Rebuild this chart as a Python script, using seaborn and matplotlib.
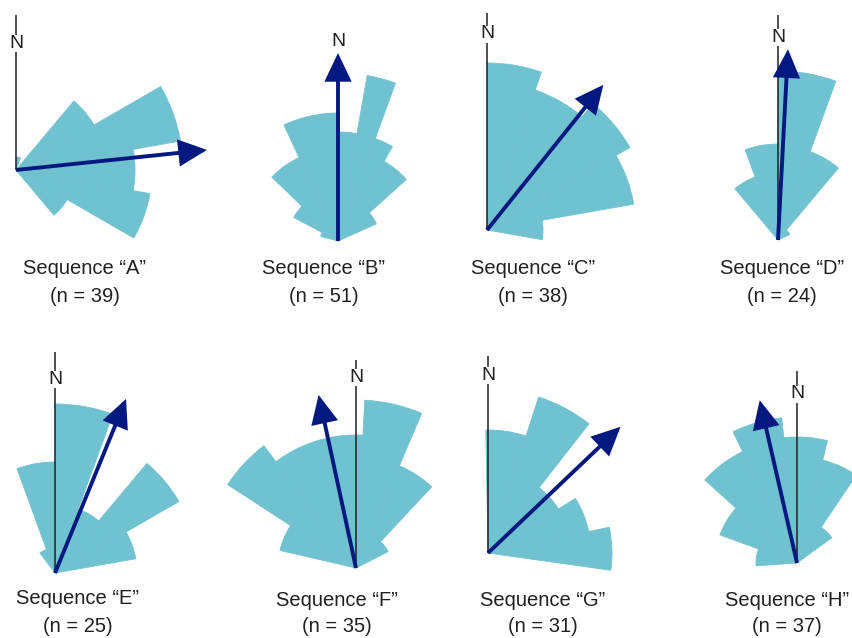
import numpy as np
import matplotlib
matplotlib.use("Agg")
import matplotlib.pyplot as plt
import seaborn as sns

# rose diagrams: sector edges (deg, clockwise from N) and sector radii
A_edges = [0, 20, 40, 60, 80, 100, 120, 140]
A_radii = [13, 0, 90, 167, 119, 136, 59]
B_edges = [-75, -62, -46, -25, 0, 10, 20, 30, 48, 66]
B_radii = [18, 50, 92, 128, 109, 168, 109, 92, 42]
C_edges = [0, 19, 40, 60, 80, 100]
C_radii = [167, 148, 165, 149, 56]
D_edges = [-40, -20, 0, 20, 40, 65]
D_radii = [67, 96, 169, 94, 13]
E_edges = [-37, -20, 0, 20, 40, 60, 80]
E_radii = [25, 111, 169, 68, 143, 82]
F_edges = [-77, -57, -37, -17, 3, 23, 43, 63]
F_radii = [78, 153, 133, 133, 168, 111, 36]
G_edges = [-1, 18, 38, 58, 78, 98]
G_radii = [123, 164, 83, 103, 124]
H_edges = [-94, -70, -48, -26, -6, 14, 34, 54]
H_radii = [41, 82, 124, 146, 126, 106, 43]

# mean vector per sequence (azimuth deg, length)
names = ["A", "B", "C", "D", "E", "F", "G", "H"]
counts = [39, 51, 38, 24, 25, 35, 31, 37]
mean_dir = [84, 0, 38.7, 3, 22.2, -12.2, 46.4, -12.9]
mean_len = [192, 188, 186, 191, 188, 177, 183, 167]

edges_all = [A_edges, B_edges, C_edges, D_edges, E_edges, F_edges, G_edges, H_edges]
radii_all = [A_radii, B_radii, C_radii, D_radii, E_radii, F_radii, G_radii, H_radii]

# layout (pixels)
W, H = 853, 638
R = 240
origins = [(16, 170), (338, 241), (487, 230), (778, 240),
           (55, 573), (356, 568), (488, 553), (797, 563)]
north_top = [155, 180, 217, 225, 221, 208, 197, 192]
north_lab = [127, 200, 196, 203, 193, 191, 178, 169]
label_x = [85, 324, 533, 782, 78, 337, 543, 787]
label_y = [269, 269, 269, 269, 599, 600, 600, 600]

CYAN = "#70c2d0"
NAVY = "#03197f"
DARK = "#231f20"

sns.set_style("white")
plt.rcParams["font.family"] = ["Liberation Sans", "DejaVu Sans"]

fig = plt.figure(figsize=(W / 100, H / 100), dpi=100)

for i in range(8):
    ox, oy = origins[i]
    ax = fig.add_axes([(ox - R) / W, 1 - (oy + R) / H, 2 * R / W, 2 * R / H],
                      projection="polar")
    ax.set_theta_zero_location("N")
    ax.set_theta_direction(-1)
    ax.set_ylim(0, R)
    ax.axis("off")
    ax.patch.set_visible(False)

    e = np.array(edges_all[i], dtype=float)
    w = np.diff(e)
    c = e[:-1] + w / 2
    ax.bar(np.radians(c), radii_all[i], width=np.radians(w), bottom=0,
           color=CYAN, edgecolor=CYAN, linewidth=0.6, align="center", zorder=1)

    ax.plot([0, 0], [0, north_top[i]], color=DARK, lw=1.1,
            solid_capstyle="butt", zorder=3)
    ax.text(0, north_lab[i], "N", ha="center", va="center", fontsize=14,
            color=DARK, zorder=5,
            bbox=dict(facecolor="white", edgecolor="none", pad=0))

    ax.annotate("", xy=(np.radians(mean_dir[i]), mean_len[i]), xytext=(0, 0),
                arrowprops=dict(arrowstyle="-|>,head_length=0.8,head_width=0.38",
                                color=NAVY, lw=2.8, shrinkA=0, shrinkB=0,
                                mutation_scale=20, joinstyle="miter",
                                capstyle="butt"),
                zorder=4)

    fig.text(label_x[i] / W, 1 - label_y[i] / H, "Sequence \u201c%s\u201d" % names[i],
             ha="center", va="center", fontsize=14.5, color=DARK)
    fig.text(label_x[i] / W, 1 - (label_y[i] + 27) / H, "(n = %d)" % counts[i],
             ha="center", va="center", fontsize=14.5, color=DARK)

fig.savefig("out.png", dpi=100)
